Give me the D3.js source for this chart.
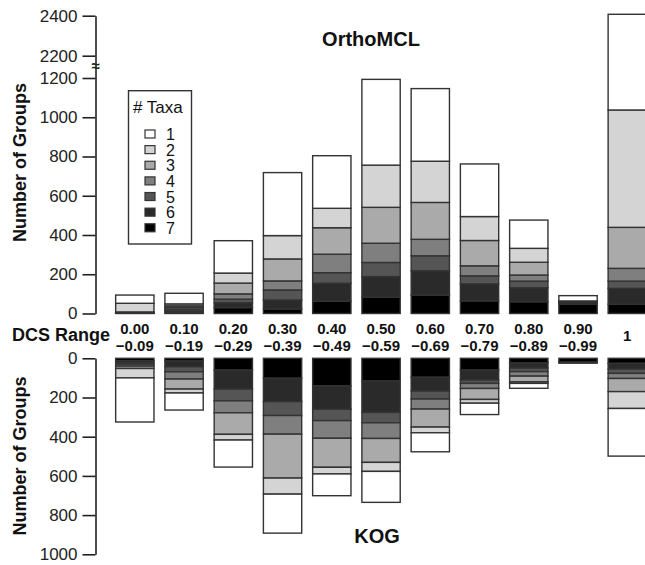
<!DOCTYPE html>
<html>
<head>
<meta charset="utf-8">
<script src="https://cdn.jsdelivr.net/npm/d3@7/dist/d3.min.js"></script>
<style>
    body { margin: 0; background: #fff; }
    svg { display: block; font-family: "Liberation Sans", Arial, Helvetica, sans-serif; }
</style>
</head>
<body>
<div id="chart"></div>
<script>
// DCS range categories (two text lines each)
let dcsLow = ["0.00", "0.10", "0.20", "0.30", "0.40", "0.50", "0.60", "0.70", "0.80", "0.90", "1"];
let dcsHigh = ["\u22120.09", "\u22120.19", "\u22120.29", "\u22120.39", "\u22120.49", "\u22120.59", "\u22120.69", "\u22120.79", "\u22120.89", "\u22120.99", ""];

// number of taxa in a group
let taxaKeys = ["1", "2", "3", "4", "5", "6", "7"];
let taxaColors = ["#ffffff", "#d4d4d4", "#aaaaaa", "#7f7f7f", "#555555", "#2a2a2a", "#000000"];

// OrthoMCL - groups per DCS range, one array per taxa count
let orthoTaxa1 = [42, 54, 165, 321, 268, 437, 370, 268, 144, 27, 1370];
let orthoTaxa2 = [44, 10, 51, 119, 99, 215, 210, 122, 71, 2, 598];
let orthoTaxa3 = [3, 8, 55, 112, 135, 183, 188, 129, 65, 2, 209];
let orthoTaxa4 = [2, 9, 27, 46, 94, 98, 84, 51, 31, 1, 65];
let orthoTaxa5 = [1, 9, 18, 51, 54, 72, 76, 41, 34, 2, 37];
let orthoTaxa6 = [1, 8, 25, 46, 92, 105, 124, 87, 71, 10, 81];
let orthoTaxa7 = [1, 5, 30, 23, 62, 83, 94, 64, 60, 47, 47];

// KOG
let kogTaxa1 = [225, 87, 138, 199, 111, 158, 97, 58, 25, 0, 243];
let kogTaxa2 = [48, 20, 29, 82, 34, 46, 29, 19, 8, 0, 86];
let kogTaxa3 = [12, 51, 110, 224, 148, 122, 92, 56, 29, 0, 67];
let kogTaxa4 = [10, 37, 61, 95, 90, 80, 51, 26, 23, 0, 26];
let kogTaxa5 = [8, 26, 60, 71, 58, 53, 41, 17, 18, 0, 22];
let kogTaxa6 = [10, 29, 97, 119, 119, 160, 70, 51, 26, 5, 29];
let kogTaxa7 = [12, 14, 60, 102, 141, 116, 97, 60, 24, 20, 26];

// axis ticks
let orthoTicks = [0, 200, 400, 600, 800, 1000, 1200, 2200, 2400];
let kogTicks = [0, 200, 400, 600, 800, 1000];

class DcsBarChart {

    constructor(parentElement) {
        this.parentElement = parentElement;
        this.width = 645;
        this.height = 565;
        this.strokeColor = "#333";

        this.initVis();
    }

    buildRows(series) {
        return dcsLow.map((c, i) => {
            let row = {cat: c};
            taxaKeys.forEach((k, j) => row[k] = series[j][i]);
            return row;
        });
    }

    initVis() {
        let vis = this;

        vis.svg = d3.select("#" + vis.parentElement).append("svg")
            .attr("width", vis.width)
            .attr("height", vis.height);

        vis.color = d3.scaleOrdinal().domain(taxaKeys).range(taxaColors);

        vis.x = d3.scaleBand()
            .domain(dcsLow)
            .range([110.2, 651.9])
            .paddingInner(0.222)
            .paddingOuter(0.111);

        // top panel has a broken axis between 1200 and 2200
        vis.yTop = d3.scaleLinear()
            .domain([0, 1200, 2200, 2400])
            .range([313.5, 78, 55.7, 15.7]);

        vis.yBottom = d3.scaleLinear()
            .domain([0, 1000])
            .range([358.3, 554.3]);

        // 7 taxa sits next to the zero line in both panels
        vis.stack = d3.stack().keys(taxaKeys.slice().reverse());

        let orthoRows = vis.buildRows([orthoTaxa1, orthoTaxa2, orthoTaxa3, orthoTaxa4, orthoTaxa5, orthoTaxa6, orthoTaxa7]);
        let kogRows = vis.buildRows([kogTaxa1, kogTaxa2, kogTaxa3, kogTaxa4, kogTaxa5, kogTaxa6, kogTaxa7]);

        vis.drawBars(vis.stack(orthoRows), vis.yTop, "ortho");
        vis.drawBars(vis.stack(kogRows), vis.yBottom, "kog");

        vis.drawAxis(vis.yTop, orthoTicks);
        vis.drawAxis(vis.yBottom, kogTicks);

        // break marker on the top axis
        vis.svg.append("text")
            .attr("x", 95.5)
            .attr("y", 71)
            .attr("text-anchor", "middle")
            .attr("font-size", 15)
            .attr("font-weight", "bold")
            .attr("fill", "#222")
            .text("\u2248");

        // axis titles
        [vis.yTop, vis.yBottom].forEach(y => {
            let mid = y === vis.yTop ? 162.5 : 456;
            vis.svg.append("text")
                .attr("transform", `translate(26, ${mid}) rotate(-90)`)
                .attr("text-anchor", "middle")
                .attr("font-size", 18)
                .attr("font-weight", "bold")
                .attr("fill", "#111")
                .text("Number of Groups");
        });

        vis.svg.append("text")
            .attr("x", 371)
            .attr("y", 46)
            .attr("text-anchor", "middle")
            .attr("font-size", 20)
            .attr("font-weight", "bold")
            .attr("fill", "#111")
            .text("OrthoMCL");

        vis.svg.append("text")
            .attr("x", 377)
            .attr("y", 543)
            .attr("text-anchor", "middle")
            .attr("font-size", 20)
            .attr("font-weight", "bold")
            .attr("fill", "#111")
            .text("KOG");

        // DCS range labels between the panels
        vis.svg.append("text")
            .attr("x", 110)
            .attr("y", 341)
            .attr("text-anchor", "end")
            .attr("font-size", 18)
            .attr("font-weight", "bold")
            .attr("fill", "#111")
            .text("DCS Range");

        let catLabels = vis.svg.append("g").selectAll("g")
            .data(dcsLow)
            .join("g")
            .attr("transform", d => `translate(${vis.x(d) + vis.x.bandwidth() / 2}, 0)`)
            .attr("font-size", 15)
            .attr("font-weight", "bold")
            .attr("fill", "#111")
            .attr("text-anchor", "middle");

        catLabels.append("text")
            .attr("y", (d, i) => dcsHigh[i] === "" ? 341 : 334)
            .text(d => d);

        catLabels.append("text")
            .attr("y", 350.5)
            .text((d, i) => dcsHigh[i]);

        vis.drawLegend();
    }

    drawBars(stacked, y, cls) {
        let vis = this;

        vis.svg.append("g")
            .attr("class", "bars-" + cls)
            .selectAll("g")
            .data(stacked)
            .join("g")
            .attr("fill", d => vis.color(d.key))
            .selectAll("rect")
            .data(d => d)
            .join("rect")
            .attr("x", d => vis.x(d.data.cat))
            .attr("y", d => Math.min(y(d[0]), y(d[1])))
            .attr("width", vis.x.bandwidth())
            .attr("height", d => Math.abs(y(d[1]) - y(d[0])))
            .attr("stroke", vis.strokeColor)
            .attr("stroke-width", 1.4);
    }

    drawAxis(y, ticks) {
        let vis = this;

        let axis = d3.axisLeft(y)
            .tickValues(ticks)
            .tickSize(13)
            .tickSizeOuter(0)
            .tickPadding(5)
            .tickFormat(d3.format("d"));

        let g = vis.svg.append("g")
            .attr("class", "axis y-axis")
            .attr("transform", "translate(95.5, 0)")
            .call(axis);

        g.select(".domain").attr("stroke", "#222").attr("stroke-width", 1.6);
        g.selectAll(".tick line").attr("stroke", "#222").attr("stroke-width", 1.6);
        g.selectAll(".tick text")
            .attr("font-size", 17)
            .attr("font-family", "\"Liberation Sans\", Arial, sans-serif")
            .attr("fill", "#222");
    }

    drawLegend() {
        let vis = this;

        let legend = vis.svg.append("g").attr("class", "legend");

        legend.append("rect")
            .attr("x", 128.5)
            .attr("y", 90.7)
            .attr("width", 63)
            .attr("height", 153.3)
            .attr("fill", "#fff")
            .attr("stroke", vis.strokeColor)
            .attr("stroke-width", 1.4);

        legend.append("text")
            .attr("x", 133)
            .attr("y", 113)
            .attr("font-size", 17)
            .attr("fill", "#111")
            .text("# Taxa");

        let items = legend.selectAll("g.item")
            .data(taxaKeys)
            .join("g")
            .attr("class", "item")
            .attr("transform", (d, i) => `translate(0, ${134 + i * 15.63})`);

        items.append("rect")
            .attr("x", 145)
            .attr("y", -4)
            .attr("width", 10)
            .attr("height", 8)
            .attr("fill", d => vis.color(d))
            .attr("stroke", vis.strokeColor)
            .attr("stroke-width", 1.2);

        items.append("text")
            .attr("x", 166)
            .attr("y", 6)
            .attr("font-size", 16)
            .attr("fill", "#111")
            .text(d => d);
    }
}

let chart = new DcsBarChart("chart");
</script>
</body>
</html>
